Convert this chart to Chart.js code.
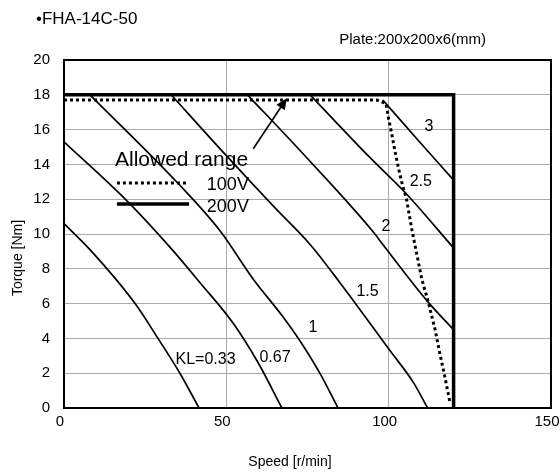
<!DOCTYPE html>
<html>
<head>
<meta charset="utf-8">
<script src="https://cdn.jsdelivr.net/npm/chart.js@4"></script>
<style>
  html, body { margin: 0; background: #fff; }
</style>
</head>
<body>
<canvas id="chart" width="560" height="475"></canvas>
<script>
// tick labels
const speedTicks = [0, 50, 100, 150];
const torqueTicks = [0, 2, 4, 6, 8, 10, 12, 14, 16, 18, 20];

// KL curves, speed [r/min] / torque [Nm]
const kl033Speed = [0, 8, 21.9, 28.6, 35.7, 41.6];
const kl033Torque = [10.6, 9.1, 6.0, 4.1, 2.0, 0];

const kl067Speed = [0, 19.4, 33.3, 41.9, 52.0, 59.8, 67.1];
const kl067Torque = [15.3, 11.9, 9.1, 7.2, 4.9, 2.6, 0];

const kl1Speed = [8, 35.7, 48, 58.3, 67.2, 72.7, 78.8, 84.4];
const kl1Torque = [18, 12.8, 10.2, 7.4, 5.3, 3.85, 2.0, 0];

const kl15Speed = [33, 50, 65, 75.8, 85, 100.4, 107.5, 112];
const kl15Torque = [18, 14.5, 11.5, 9.4, 7.2, 3.3, 1.5, 0];

const kl2Speed = [56.5, 72.7, 94.9, 98.2, 112.1, 120];
const kl2Torque = [18, 14.8, 10.2, 9.4, 6.1, 4.5];

const kl25Speed = [75.8, 94.2, 105, 120];
const kl25Torque = [18, 14.4, 12.4, 9.2];

const kl3Speed = [98.2, 109, 120];
const kl3Torque = [17.7, 15.4, 13.1];

// allowed range
const v100Speed = [0, 96.3, 99.2, 100, 101, 102, 103, 104, 105.5, 107.1, 108.6, 110.2, 112.2, 114.3, 115.8, 117.3, 118.9];
const v100Torque = [17.7, 17.7, 17.5, 16.6, 15.7, 14.7, 13.8, 13.0, 12.0, 10.3, 8.9, 7.4, 6.1, 4.5, 3.1, 1.8, 0.3];

const v200Speed = [0, 120, 120];
const v200Torque = [18, 18, 0];

// curve labels
const klNames = ['KL=0.33', '0.67', '1', '1.5', '2', '2.5', '3'];
const klLabelPos = [[43.6, 2.8], [65.0, 2.9], [76.7, 4.6], [93.5, 6.7], [99.2, 10.4], [109.9, 13.0], [112.4, 16.15]];

// arrow pointing to the allowed range
const arrowPos = [[58.3, 14.9], [68.6, 17.8]];

const FONT = '"Liberation Sans", Arial, sans-serif';

const pts = (xs, ys) => xs.map((v, i) => ({ x: v, y: ys[i] }));

const curve = (xs, ys) => ({
    data: pts(xs, ys),
    borderColor: '#000',
    borderWidth: 1.7,
    pointRadius: 0,
    showLine: true,
    cubicInterpolationMode: 'monotone'
});

const annotate = {
    id: 'annotate',
    afterDatasetsDraw(chart) {
        const { ctx, chartArea: a, scales: { x, y } } = chart;
        ctx.save();

        // plot frame
        ctx.strokeStyle = '#000';
        ctx.lineWidth = 2;
        ctx.strokeRect(a.left, a.top, a.right - a.left, a.bottom - a.top);

        // arrow
        const x0 = x.getPixelForValue(arrowPos[0][0]), y0 = y.getPixelForValue(arrowPos[0][1]);
        const x1 = x.getPixelForValue(arrowPos[1][0]), y1 = y.getPixelForValue(arrowPos[1][1]);
        const ang = Math.atan2(y1 - y0, x1 - x0);
        ctx.lineWidth = 1.6;
        ctx.beginPath();
        ctx.moveTo(x0, y0);
        ctx.lineTo(x1 - 8 * Math.cos(ang), y1 - 8 * Math.sin(ang));
        ctx.stroke();
        ctx.fillStyle = '#000';
        ctx.beginPath();
        ctx.moveTo(x1, y1);
        ctx.lineTo(x1 - 11 * Math.cos(ang) + 5 * Math.sin(ang), y1 - 11 * Math.sin(ang) - 5 * Math.cos(ang));
        ctx.lineTo(x1 - 11 * Math.cos(ang) - 5 * Math.sin(ang), y1 - 11 * Math.sin(ang) + 5 * Math.cos(ang));
        ctx.closePath();
        ctx.fill();

        // KL labels
        ctx.fillStyle = '#000';
        ctx.font = '16px ' + FONT;
        ctx.textAlign = 'center';
        ctx.textBaseline = 'middle';
        klNames.forEach((t, i) => {
            ctx.fillText(t, x.getPixelForValue(klLabelPos[i][0]), y.getPixelForValue(klLabelPos[i][1]));
        });

        // legend inside the plot
        ctx.textAlign = 'left';
        ctx.font = '21px ' + FONT;
        ctx.fillText('Allowed range', x.getPixelForValue(15.7), y.getPixelForValue(14.25));
        ctx.font = '18px ' + FONT;
        ctx.fillText('100V', x.getPixelForValue(44), y.getPixelForValue(12.8));
        ctx.fillText('200V', x.getPixelForValue(44), y.getPixelForValue(11.55));

        ctx.lineWidth = 3;
        ctx.setLineDash([3, 3]);
        ctx.beginPath();
        ctx.moveTo(x.getPixelForValue(16.3), y.getPixelForValue(12.93));
        ctx.lineTo(x.getPixelForValue(38.3), y.getPixelForValue(12.93));
        ctx.stroke();
        ctx.setLineDash([]);
        ctx.lineWidth = 3.5;
        ctx.beginPath();
        ctx.moveTo(x.getPixelForValue(16.3), y.getPixelForValue(11.72));
        ctx.lineTo(x.getPixelForValue(38.5), y.getPixelForValue(11.72));
        ctx.stroke();

        ctx.restore();
    },
    afterDraw(chart) {
        const { ctx } = chart;
        ctx.save();
        ctx.fillStyle = '#000';
        ctx.textBaseline = 'middle';
        ctx.font = '17px ' + FONT;
        ctx.textAlign = 'left';
        ctx.fillText('\u2022FHA-14C-50', 36, 19);
        ctx.font = '15px ' + FONT;
        ctx.textAlign = 'right';
        ctx.fillText('Plate:200x200x6(mm)', 486, 40);
        ctx.font = '14px ' + FONT;
        ctx.textAlign = 'center';
        ctx.fillText('Speed [r/min]', 290, 462);
        ctx.translate(18, 258);
        ctx.rotate(-Math.PI / 2);
        ctx.fillText('Torque [Nm]', 0, 0);
        ctx.restore();
    }
};

new Chart(document.getElementById('chart'), {
    type: 'scatter',
    data: {
        datasets: [
            curve(kl033Speed, kl033Torque),
            curve(kl067Speed, kl067Torque),
            curve(kl1Speed, kl1Torque),
            curve(kl15Speed, kl15Torque),
            curve(kl2Speed, kl2Torque),
            curve(kl25Speed, kl25Torque),
            curve(kl3Speed, kl3Torque),
            {
                data: pts(v100Speed, v100Torque),
                borderColor: '#000',
                borderWidth: 3,
                borderDash: [3, 3],
                pointRadius: 0,
                showLine: true,
                tension: 0
            },
            {
                data: pts(v200Speed, v200Torque),
                borderColor: '#000',
                borderWidth: 3.5,
                pointRadius: 0,
                showLine: true,
                tension: 0
            }
        ]
    },
    options: {
        responsive: false,
        animation: false,
        layout: { padding: { top: 60, right: 9, left: 0, bottom: 0 } },
        plugins: { legend: { display: false }, tooltip: { enabled: false } },
        scales: {
            x: {
                type: 'linear',
                min: 0,
                max: 150,
                afterBuildTicks: s => { s.ticks = speedTicks.map(v => ({ value: v })); },
                afterFit: s => { s.height = 67; s.paddingLeft = 0; s.paddingRight = 0; },
                grid: { color: '#aaa', borderDash: [3, 2], drawTicks: false },
                border: { display: false },
                ticks: { color: '#000', font: { family: FONT, size: 15 }, padding: 5, labelOffset: -4, maxRotation: 0 }
            },
            y: {
                type: 'linear',
                min: 0,
                max: 20,
                afterBuildTicks: s => { s.ticks = torqueTicks.map(v => ({ value: v })); },
                afterFit: s => { s.width = 64; },
                grid: { color: '#aaa', borderDash: [3, 2], drawTicks: false },
                border: { display: false },
                ticks: { color: '#000', font: { family: FONT, size: 15 }, padding: 14 }
            }
        }
    },
    plugins: [annotate]
});
</script>
</body>
</html>
